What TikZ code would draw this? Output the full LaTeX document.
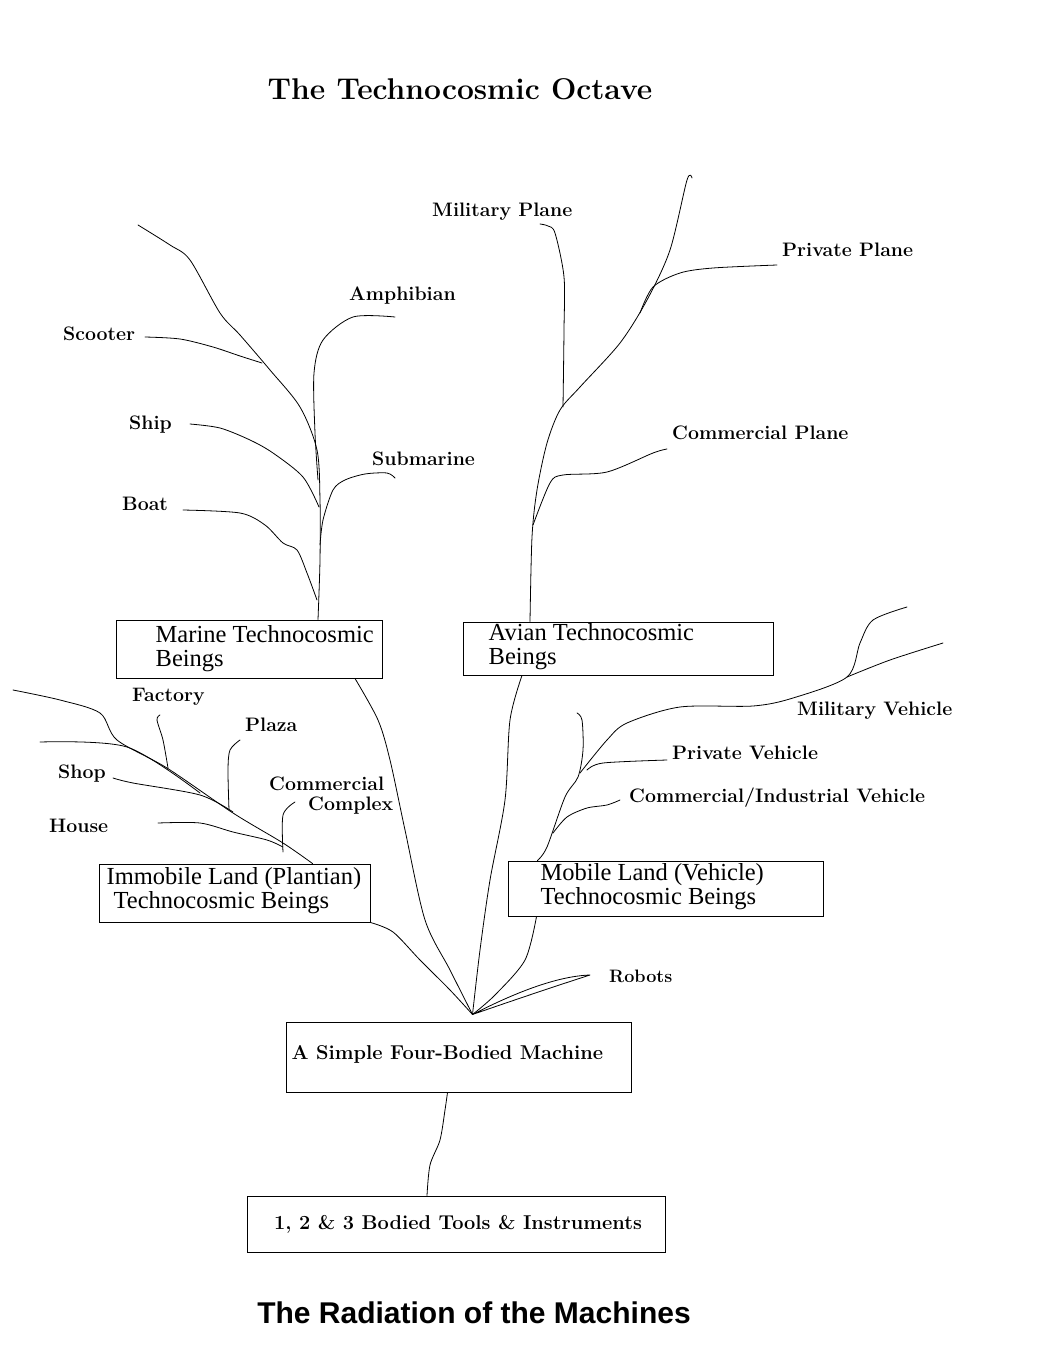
\documentclass[tikz,border=0pt]{standalone}
\usepackage{fontspec}
\newfontfamily\boxfont{Liberation Serif}
\newfontfamily\footfont{Liberation Sans}
\usetikzlibrary{positioning}

\begin{document}
\begin{tikzpicture}[x=1pt, y=-1pt,
    branch/.style={line width=0.8pt, line join=round, line cap=round},
    tbox/.style={draw, line width=1pt, inner sep=0pt},
    boxtext/.style={font=\boxfont\fontsize{24.5}{24}\selectfont, align=left, inner sep=0pt, anchor=west},
    leaf/.style={font=\bfseries\fontsize{19.5}{20}\selectfont, align=left, inner sep=0pt, anchor=west},
  ]
  \useasboundingbox (0,0) rectangle (1038,1356);

  % Titles
  \node[font=\bfseries\fontsize{30}{32}\selectfont] (title) at (460,89) {The Technocosmic Octave};
  \node[font=\footfont\bfseries\fontsize{30}{32}\selectfont] (foot) at (474,1313) {The Radiation of the Machines};

  % Boxes
  \node[tbox, minimum width=266pt, minimum height=58pt] (marine) at (249,649) {};
  \node[boxtext] (marinetxt) at ([xshift=40pt]marine.west) {Marine Technocosmic\\Beings};
  \node[tbox, minimum width=310pt, minimum height=53pt] (avian) at (618,648.5) {};
  \node[boxtext] (aviantxt) at ([xshift=26pt, yshift=2pt]avian.west) {Avian Technocosmic\\Beings};
  \node[tbox, minimum width=271pt, minimum height=58pt] (immobile) at (234.5,893) {};
  \node[boxtext] (immobiletxt) at ([xshift=8pt, yshift=2pt]immobile.west) {Immobile Land (Plantian)\\\hspace*{7pt}Technocosmic Beings};
  \node[tbox, minimum width=315pt, minimum height=55pt] (mobile) at (665.5,888.5) {};
  \node[boxtext] (mobiletxt) at ([xshift=33pt, yshift=2pt]mobile.west) {Mobile Land (Vehicle)\\Technocosmic Beings};
  \node[tbox, minimum width=345pt, minimum height=70pt] (simple) at (458.5,1057) {};
  \node[font=\bfseries\fontsize{20}{22}\selectfont, inner sep=0pt, anchor=west] (simpletxt) at ([xshift=6pt, yshift=3pt]simple.west) {A Simple Four-Bodied Machine};
  \node[tbox, minimum width=418pt, minimum height=56pt] (tools) at (456,1224) {};
  \node[font=\bfseries\fontsize{20}{22}\selectfont, inner sep=0pt] (toolstxt) at ([xshift=2pt]tools.center) {1, 2 \& 3 Bodied Tools \& Instruments};

  % Labels
  \node[leaf] (milplane) at (432,212) {Military Plane};
  \node[leaf] (privplane) at (782,250) {Private Plane};
  \node[leaf] (amphibian) at (349,296) {Amphibian};
  \node[leaf] (scooter) at (63,334) {Scooter};
  \node[leaf] (ship) at (129,425) {Ship};
  \node[leaf] (submarine) at (372,459) {Submarine};
  \node[leaf] (complane) at (672,433) {Commercial Plane};
  \node[leaf] (boat) at (122,504) {Boat};
  \node[leaf] (factory) at (132,697) {Factory};
  \node[leaf] (plaza) at (245,725) {Plaza};
  \node[leaf] (shop) at (58,774) {Shop};
  \node[leaf] (complex) at (269,796) {Commercial\\\hspace*{39pt}Complex};
  \node[leaf] (house) at (49,826) {House};
  \node[leaf] (milvehicle) at (797,711) {Military Vehicle};
  \node[leaf] (privvehicle) at (672,753) {Private Vehicle};
  \node[leaf] (comvehicle) at (629,798) {Commercial/Industrial Vehicle};
  \node[font=\bfseries\fontsize{18}{20}\selectfont, inner sep=0pt, anchor=west] (robots) at (609,976) {Robots};

  % Marine tree
  \draw[branch] plot[smooth] coordinates {([xshift=69pt]marine.north) (320,560) (320,500) (317,450) (300,407) (270,370) (240,335) (220,313) (190,260) (170,245) (138,225)};
  \draw[branch] plot[smooth] coordinates {(145,337) (180,339) (213,347) (240,356) (262,363)};
  \draw[branch] plot[smooth] coordinates {(395,317) (353,317) (323,340) (314,373) (315,433) (318,480)};
  \draw[branch] plot[smooth] coordinates {(190,424) (220,428) (250,440) (273,453) (303,477) (319,507)};
  \draw[branch] plot[smooth] coordinates {(395,478) (387,473) (365,474) (345,480) (333,490) (323,520) (320,545)};
  \draw[branch] plot[smooth] coordinates {(183,510) (240,513) (265,525) (283,543) (297,550) (307,573) (317,600)};

  % Avian tree
  \draw[branch] plot[smooth] coordinates {([xshift=-88pt]avian.north) (532,537) (537,490) (547,443) (560,410) (580,387) (620,343) (647,300) (670,250) (687,180) (692,178)};
  \draw[branch] plot[smooth] coordinates {(563,407) (564,330) (564,277) (555,233) (548,226) (540,224)};
  \draw[branch] plot[smooth] coordinates {(640,313) (653,287) (680,273) (713,268) (777,265)};
  \draw[branch] plot[smooth] coordinates {(533,525) (550,483) (563,475) (607,472) (653,453) (667,449)};

  % Immobile land tree
  \draw[branch] plot[smooth] coordinates {([xshift=78pt]immobile.north) (283,843) (233,813) (167,768) (117,740) (100,713) (60,700) (13,690)};
  \draw[branch] plot[smooth] coordinates {(168,768) (163,740) (157,720) (160,715)};
  \draw[branch] plot[smooth] coordinates {(40,742) (127,747) (200,793)};
  \draw[branch] plot[smooth] coordinates {(113,778) (133,783) (200,795) (233,812)};
  \draw[branch] plot[smooth] coordinates {(229,810) (228,770) (230,750) (240,740)};
  \draw[branch] plot[smooth] coordinates {(283,852) (283,815) (295,802)};
  \draw[branch] plot[smooth] coordinates {(158,823) (200,823) (233,832) (267,840) (283,847)};

  % Mobile land tree
  \draw[branch] plot[smooth] coordinates {([xshift=-128pt]mobile.north) (547,847) (565,797) (578,777) (583,750) (582,720) (577,713)};
  \draw[branch] plot[smooth] coordinates {(580,773) (607,740) (627,723) (680,707) (753,706) (793,698) (847,677) (860,643) (873,620) (907,607)};
  \draw[branch] plot[smooth] coordinates {(847,677) (890,660) (943,643)};
  \draw[branch] plot[smooth] coordinates {(587,770) (603,763) (667,760)};
  \draw[branch] plot[smooth] coordinates {(553,833) (567,817) (587,808) (607,805) (620,800)};

  % Down to the simple machine
  \coordinate (root) at ([xshift=14pt, yshift=7pt]simple.north);
  \draw[branch] plot[smooth] coordinates {([xshift=106pt]marine.south) (378,720) (390,760) (405,830) (425,920) (450,970) (root)};
  \draw[branch] plot[smooth] coordinates {(immobile.south east) (393,932) (420,960) (450,990) (root)};
  \draw[branch] plot[smooth] coordinates {([xshift=-96pt]avian.south) (510,720) (505,800) (490,880) (480,950) (root)};
  \draw[branch] plot[smooth] coordinates {([xshift=-129pt]mobile.south) (525,960) (495,995) (root)};
  \draw[branch] (root) .. controls (520,990) and (560,976) .. (590,975) .. controls (562,984) and (520,998) .. (root);
  \draw[branch] plot[smooth] coordinates {([xshift=-11pt]simple.south) (445,1110) (440,1140) (430,1165) ([xshift=-29pt]tools.north)};
\end{tikzpicture}
\end{document}
